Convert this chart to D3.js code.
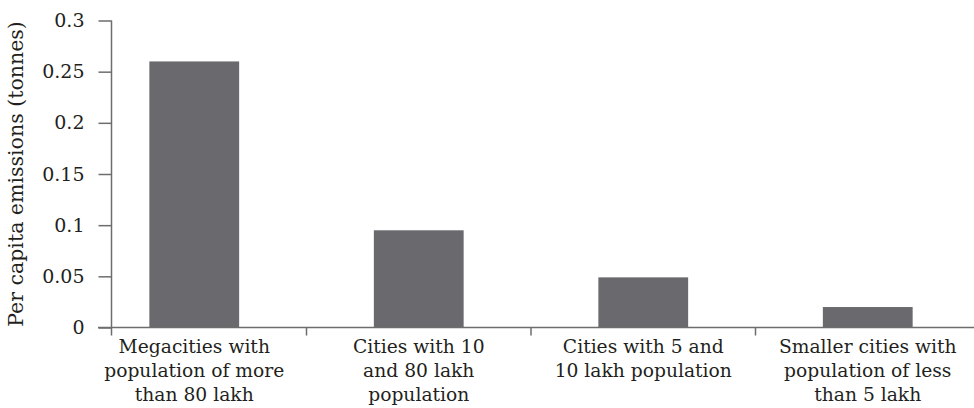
<!DOCTYPE html>
<html><head><meta charset="utf-8">
<script src="https://cdn.jsdelivr.net/npm/d3@7"></script>
<style>body{margin:0;background:#fff}svg{display:block}text{font-family:"DejaVu Serif",serif;fill:#231f20}</style>
</head><body><svg id="c" width="974" height="408"></svg>
<script>
const categories = [
  ["Megacities with","population of more","than 80 lakh"],
  ["Cities with 10","and 80 lakh","population"],
  ["Cities with 5 and","10 lakh population"],
  ["Smaller cities with","population of less","than 5 lakh"]
];
const values = [0.26, 0.095, 0.049, 0.02];
const yTicks = [0, 0.05, 0.1, 0.15, 0.2, 0.25, 0.3];
const yLabel = "Per capita emissions (tonnes)";

const svg = d3.select("#c");
const fs = 18.7;
const x = d3.scaleBand().domain(d3.range(categories.length)).range([82, 980]).paddingInner(0.6).paddingOuter(0.3);
const y = d3.scaleLinear().domain([0, 0.3]).range([327.5, 20.5]);
const axisX = 111.5;
const axisColor = "#6d6d6d";

svg.selectAll("rect.bar").data(values).enter().append("rect")
  .attr("class","bar")
  .attr("x",(d,i)=>x(i)).attr("width",x.bandwidth())
  .attr("y",d=>y(d)).attr("height",d=>y(0)-y(d))
  .attr("fill","#6a6a6e");

// y axis
const ya = svg.append("g").attr("transform",`translate(${axisX},0)`)
  .call(d3.axisLeft(y).tickValues(yTicks).tickSize(13).tickPadding(14).tickFormat(d=>String(d)));
ya.select(".domain").attr("d",`M0,${y(0.3)}V${y(0)+8}`);
ya.selectAll("line,path").attr("stroke",axisColor).attr("stroke-width",1.5);
ya.selectAll("text").style("font-size","19px").attr("fill","#231f20");

// x axis line
svg.append("line").attr("x1",98).attr("x2",974).attr("y1",y(0)).attr("y2",y(0))
  .attr("stroke",axisColor).attr("stroke-width",1.5);
// category boundary ticks
const step = x.step();
svg.selectAll("line.ct").data(d3.range(1,categories.length)).enter().append("line")
  .attr("class","ct")
  .attr("x1",i=>x(i)-x.paddingInner()*step/2).attr("x2",i=>x(i)-x.paddingInner()*step/2)
  .attr("y1",y(0)).attr("y2",y(0)+8)
  .attr("stroke",axisColor).attr("stroke-width",1.5);

// category labels
categories.forEach((lines,i)=>{
  const t = svg.append("text").attr("text-anchor","middle")
    .attr("x", x(i)+x.bandwidth()/2).attr("y",353).style("font-size",fs+"px");
  lines.forEach((l,j)=>t.append("tspan").attr("x",x(i)+x.bandwidth()/2).attr("dy",j?24:0).text(l));
});

svg.append("text").attr("transform",`translate(23,174) rotate(-90)`)
  .attr("text-anchor","middle").style("font-size","20.5px").text(yLabel);
</script></body></html>
